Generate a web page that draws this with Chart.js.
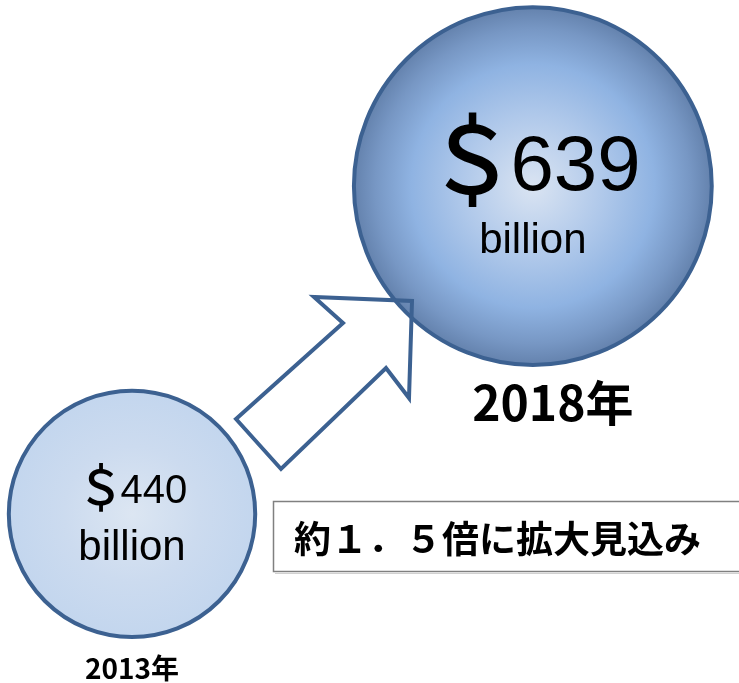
<!DOCTYPE html>
<html lang="ja">
<head>
<meta charset="utf-8">
<title>市場規模</title>
<script src="https://cdn.jsdelivr.net/npm/chart.js@4.4.0/dist/chart.umd.min.js"></script>
<style>
  html, body { margin: 0; padding: 0; background: #fff; }
  #wrap { position: relative; width: 739px; height: 683px; }
</style>
</head>
<body>
<div id="wrap"><canvas id="marketChart"></canvas></div>
<script>
// market size, US$ billion
const years = ['2013年', '2018年'];
const marketSize = [440, 639];
const unitLabel = 'billion';
const currencySign = '＄';
const growthNote = '約１．５倍に拡大見込み';

const radiusPerBillion = 0.28;
const edgeBlue = '#3c6191';

const ctx = document.getElementById('marketChart');

// radial fill for each bubble, lighter in the middle
function bubbleFill(context) {
    const flat = context.dataIndex === 0 ? '#c6d9f0' : '#8fb3e2';
    const chart = context.chart;
    if (context.type !== 'data' || !chart.scales.x || !chart.scales.y) return flat;
    const raw = context.raw;
    const cx = chart.scales.x.getPixelForValue(raw.x);
    const cy = chart.scales.y.getPixelForValue(raw.y);
    if (!Number.isFinite(cx) || !Number.isFinite(cy) || !(raw.r > 0)) return flat;
    const g = chart.ctx.createRadialGradient(cx, cy, 0, cx, cy, raw.r);
    if (context.dataIndex === 0) {
        g.addColorStop(0, '#dce6f2');
        g.addColorStop(0.55, '#ccdbef');
        g.addColorStop(1, '#c3d6ee');
    } else {
        g.addColorStop(0, '#dae4f2');
        g.addColorStop(0.4, '#afc8ea');
        g.addColorStop(0.68, '#8fb3e2');
        g.addColorStop(0.88, '#7797c4');
        g.addColorStop(1, '#6482ad');
    }
    return g;
}

// currency sign drawn a little larger than the digits, then the amount
function drawAmount(c, value, cx, baseline, size) {
    const signFont = '500 ' + Math.round(size * 1.2) + 'px "Noto Sans CJK JP", sans-serif';
    const numFont = size + 'px "Liberation Sans", sans-serif';
    const gap = -size * 0.11;
    c.font = signFont;
    const ws = c.measureText(currencySign).width;
    c.font = numFont;
    const wn = c.measureText(String(value)).width;
    let x = cx - (ws + gap + wn) / 2;
    c.textAlign = 'left';
    c.font = signFont;
    c.fillText(currencySign, x, baseline + size * 0.06);
    c.font = numFont;
    c.fillText(String(value), x + ws + gap, baseline);
}

const bubbleLabels = {
    id: 'bubbleLabels',
    afterDatasetsDraw(chart) {
        const c = chart.ctx;
        const meta = chart.getDatasetMeta(0);
        c.save();
        c.fillStyle = '#000';
        c.textBaseline = 'alphabetic';

        meta.data.forEach((pt, i) => {
            const r = chart.data.datasets[0].data[i].r;
            const big = i === 1;
            // value + unit inside the bubble
            drawAmount(c, marketSize[i], pt.x, pt.y + (big ? 4 : -11), big ? 78 : 40);
            c.textAlign = 'center';
            c.font = '42px "Liberation Sans", sans-serif';
            c.fillText(unitLabel, pt.x, pt.y + (big ? 67 : 46));
            // year under the bubble
            c.font = 'bold ' + (big ? '48px' : '28px') + ' "Noto Sans CJK JP", sans-serif';
            c.fillText(years[i], pt.x + (big ? 20 : 0), pt.y + r + (big ? 56 : 42));
        });

        // growth arrow from the small bubble toward the large one
        const arrow = [[236, 419], [343, 323], [314, 297], [412, 301], [409, 398], [386, 368], [281, 469]];
        c.beginPath();
        arrow.forEach(([x, y], k) => k ? c.lineTo(x, y) : c.moveTo(x, y));
        c.closePath();
        c.lineWidth = 4;
        c.lineJoin = 'miter';
        c.strokeStyle = edgeBlue;
        c.stroke();

        // note box
        c.fillStyle = '#fff';
        c.fillRect(273, 501, 480, 70);
        c.strokeStyle = '#808080';
        c.lineWidth = 1.5;
        c.strokeRect(273.5, 501.5, 480, 70);
        c.strokeStyle = 'rgba(0,0,0,0.18)';
        c.lineWidth = 1;
        c.beginPath();
        c.moveTo(275, 573.5);
        c.lineTo(739, 573.5);
        c.stroke();
        c.fillStyle = '#000';
        c.textAlign = 'left';
        c.font = 'bold 37px "Noto Sans CJK JP", sans-serif';
        c.fillText(growthNote, 294, 553);
        c.restore();
    }
};

// the bubble controller pads the chart area by the largest radius,
// so the axis ranges below are set against that inset area
new Chart(ctx, {
    type: 'bubble',
    data: {
        labels: years,
        datasets: [{
            label: '市場規模',
            data: marketSize.map((v, i) => ({ x: i, y: v, r: v * radiusPerBillion })),
            backgroundColor: bubbleFill,
            borderColor: edgeBlue,
            borderWidth: 4,
            hoverRadius: 0,
            clip: false
        }]
    },
    options: {
        responsive: true,
        maintainAspectRatio: false,
        animation: false,
        events: [],
        layout: { padding: 0 },
        scales: {
            x: { type: 'linear', display: false, min: 0.127, max: 1.058 },
            y: { type: 'linear', display: false, min: 448.4, max: 640.9 }
        },
        plugins: {
            legend: { display: false },
            tooltip: { enabled: false }
        }
    },
    plugins: [bubbleLabels]
});
</script>
</body>
</html>
